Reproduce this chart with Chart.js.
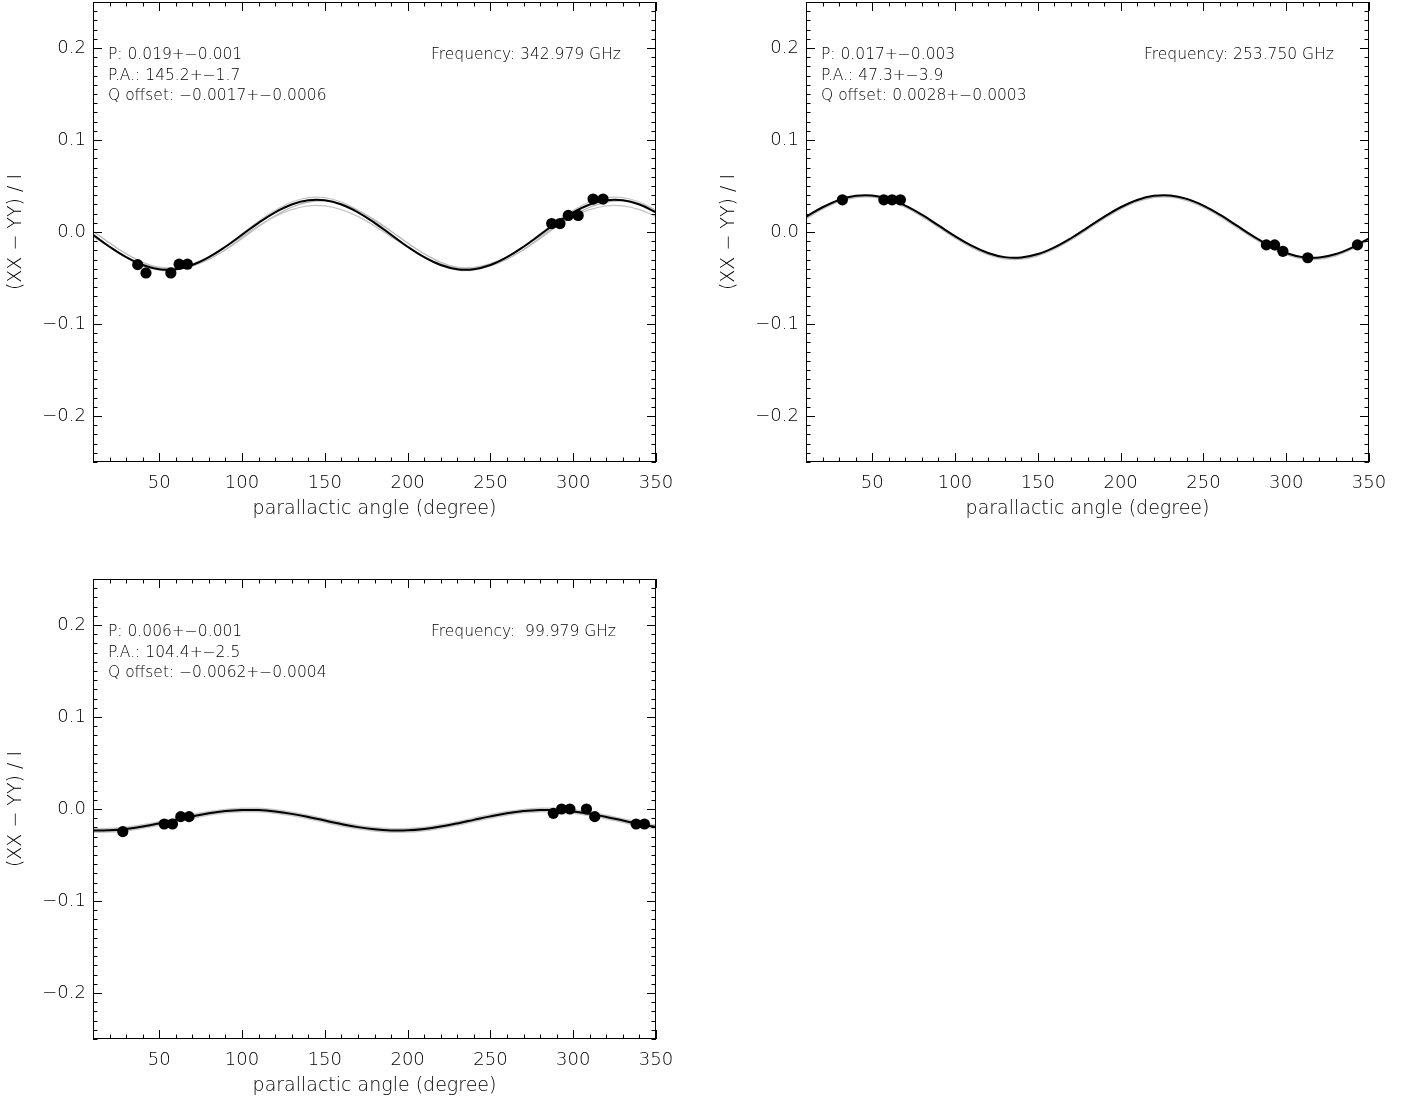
<!DOCTYPE html>
<html>
<head>
<meta charset="utf-8">
<script src="https://cdn.jsdelivr.net/npm/chart.js@4.4.1/dist/chart.umd.min.js"></script>
<style>
  html, body { margin: 0; padding: 0; background: #fff; overflow: hidden; }
  .panel { position: absolute; width: 700px; height: 525px; }
</style>
</head>
<body>
<div class="panel" style="left:0;top:0"><canvas id="c1" width="700" height="525"></canvas></div>
<div class="panel" style="left:713px;top:0"><canvas id="c2" width="700" height="525"></canvas></div>
<div class="panel" style="left:0;top:577px"><canvas id="c3" width="700" height="525"></canvas></div>
<script>
// axis ticks
const xTickValues = [50, 100, 150, 200, 250, 300, 350];
const xTickLabels = ["50", "100", "150", "200", "250", "300", "350"];
const yTickValues = [-0.2, -0.1, 0, 0.1, 0.2];
const yTickLabels = ["\u22120.2", "\u22120.1", "0.0", "0.1", "0.2"];

// angles where the fitted curves were read
const fitAngles = [10, 20, 30, 40, 50, 60, 70, 80, 90, 100, 110, 120, 130, 140, 150, 160, 170, 180,
  190, 200, 210, 220, 230, 240, 250, 260, 270, 280, 290, 300, 310, 320, 330, 340, 350];

// panel 1 : 342.979 GHz
const p1Fit = [-0.003, -0.016, -0.0274, -0.0359, -0.0404, -0.0404, -0.0359, -0.0274, -0.016, -0.003, 0.010, 0.0214, 0.0299, 0.0344, 0.0344, 0.0299, 0.0214, 0.010,
  -0.003, -0.016, -0.0274, -0.0359, -0.0404, -0.0404, -0.0359, -0.0274, -0.016, -0.003, 0.010, 0.0214, 0.0299, 0.0344, 0.0344, 0.0299, 0.0214];
const p1Boot1 = [-0.002, -0.0157, -0.0277, -0.0366, -0.0414, -0.0414, -0.0366, -0.0277, -0.0157, -0.002, 0.0117, 0.0237, 0.0326, 0.0374, 0.0374, 0.0326, 0.0237, 0.0117,
  -0.002, -0.0157, -0.0277, -0.0366, -0.0414, -0.0414, -0.0366, -0.0277, -0.0157, -0.002, 0.0117, 0.0237, 0.0326, 0.0374, 0.0374, 0.0326, 0.0237];
const p1Boot2 = [-0.005, -0.0166, -0.0269, -0.0344, -0.0385, -0.0385, -0.0344, -0.0269, -0.0166, -0.005, 0.0066, 0.0169, 0.0244, 0.0285, 0.0285, 0.0244, 0.0169, 0.0066,
  -0.005, -0.0166, -0.0269, -0.0344, -0.0385, -0.0385, -0.0344, -0.0269, -0.0166, -0.005, 0.0066, 0.0169, 0.0244, 0.0285, 0.0285, 0.0244, 0.0169];
const p1Boot3 = [0.0009, -0.012, -0.0237, -0.0329, -0.0386, -0.0399, -0.0368, -0.0296, -0.0192, -0.0069, 0.006, 0.0177, 0.0269, 0.0326, 0.0339, 0.0308, 0.0236, 0.0132,
  0.0009, -0.012, -0.0237, -0.0329, -0.0386, -0.0399, -0.0368, -0.0296, -0.0192, -0.0069, 0.006, 0.0177, 0.0269, 0.0326, 0.0339, 0.0308, 0.0236];
const p1Angle = [37, 42, 57, 62, 67, 287, 292, 297, 303, 312, 318];
const p1Value = [-0.0355, -0.0445, -0.0445, -0.035, -0.035, 0.0092, 0.0092, 0.018, 0.018, 0.0358, 0.0358];
const p1Text = ["P: 0.019+\u22120.001", "P.A.: 145.2+\u22121.7", "Q offset: \u22120.0017+\u22120.0006"];
const p1Freq = "Frequency: 342.979 GHz";

// panel 2 : 253.750 GHz
const p2Fit = [0.0165, 0.0269, 0.0348, 0.0393, 0.0397, 0.036, 0.0287, 0.0188, 0.0072, -0.0045, -0.0149, -0.0228, -0.0273, -0.0277, -0.024, -0.0167, -0.0068, 0.0048,
  0.0165, 0.0269, 0.0348, 0.0393, 0.0397, 0.036, 0.0287, 0.0188, 0.0072, -0.0045, -0.0149, -0.0228, -0.0273, -0.0277, -0.024, -0.0167, -0.0068];
const p2Boot = [0.0153, 0.0257, 0.0336, 0.0381, 0.0385, 0.0348, 0.0275, 0.0176, 0.006, -0.0057, -0.0161, -0.024, -0.0285, -0.0289, -0.0252, -0.0179, -0.008, 0.0036,
  0.0153, 0.0257, 0.0336, 0.0381, 0.0385, 0.0348, 0.0275, 0.0176, 0.006, -0.0057, -0.0161, -0.024, -0.0285, -0.0289, -0.0252, -0.0179, -0.008];
const p2Angle = [32, 57, 62, 67, 288, 293, 298, 313, 343];
const p2Value = [0.035, 0.035, 0.035, 0.035, -0.014, -0.014, -0.021, -0.028, -0.014];
const p2Text = ["P: 0.017+\u22120.003", "P.A.: 47.3+\u22123.9", "Q offset: 0.0028+\u22120.0003"];
const p2Freq = "Frequency: 253.750 GHz";

// panel 3 : 99.979 GHz
const p3Fit = [-0.0233, -0.0232, -0.0217, -0.0191, -0.0157, -0.0118, -0.008, -0.0047, -0.0023, -0.0011, -0.0012, -0.0027, -0.0053, -0.0087, -0.0126, -0.0164, -0.0197, -0.0221,
  -0.0233, -0.0232, -0.0217, -0.0191, -0.0157, -0.0118, -0.008, -0.0047, -0.0023, -0.0011, -0.0012, -0.0027, -0.0053, -0.0087, -0.0126, -0.0164, -0.0197];
const p3Angle = [28, 53, 58, 63, 68, 288, 293, 298, 308, 313, 338, 343];
const p3Value = [-0.0246, -0.0163, -0.0163, -0.0083, -0.0083, -0.0047, 0.0, 0.0, 0.0, -0.0083, -0.0163, -0.0163];
const p3Text = ["P: 0.006+\u22120.001", "P.A.: 104.4+\u22122.5", "Q offset: \u22120.0062+\u22120.0004"];
const p3Freq = "Frequency:  99.979 GHz";

const FONT = "DejaVu Sans";
Chart.defaults.font.family = FONT;
Chart.defaults.color = "#000";

function toXY(xs, ys) {
  return xs.map((x, i) => ({ x: x, y: ys[i] }));
}

// inward ticks on all four sides, the box, and the fit annotations
const framePlugin = {
  id: "frame",
  afterDatasetsDraw(chart) {
    const { ctx, chartArea: a, scales } = chart;
    const xs = scales.x, ys = scales.y;
    ctx.save();
    ctx.strokeStyle = "#000";
    ctx.lineWidth = 1;
    ctx.strokeRect(a.left + 0.5, a.top + 0.5, a.right - a.left - 1, a.bottom - a.top - 1);
    ctx.beginPath();
    for (let v = 10; v <= 350; v += 10) {
      const px = Math.round(xs.getPixelForValue(v)) + 0.5;
      const len = v % 50 === 0 ? 9 : 4.5;
      ctx.moveTo(px, a.bottom); ctx.lineTo(px, a.bottom - len);
      ctx.moveTo(px, a.top); ctx.lineTo(px, a.top + len);
    }
    for (let i = -25; i <= 25; i++) {
      const py = Math.round(ys.getPixelForValue(i / 100)) + 0.5;
      const len = i % 10 === 0 ? 9 : 4.5;
      ctx.moveTo(a.left, py); ctx.lineTo(a.left + len, py);
      ctx.moveTo(a.right, py); ctx.lineTo(a.right - len, py);
    }
    ctx.stroke();

    const note = chart.options.plugins.frame;
    ctx.fillStyle = "#000";
    ctx.font = "200 15.5px '" + FONT + "'";
    ctx.textBaseline = "middle";
    ctx.textAlign = "left";
    note.lines.forEach((t, i) => ctx.fillText(t, a.left + 15, a.top + 53 + i * 20.5));
    ctx.fillText(note.freq, a.left + 338, a.top + 53);
    ctx.restore();
  }
};

function makePanel(id, fits, boots, angles, values, lines, freq) {
  const datasets = [];
  datasets.push({
    type: "scatter", data: toXY(angles, values), order: 0,
    pointRadius: 5.6, pointBackgroundColor: "#000", pointBorderWidth: 0, showLine: false
  });
  datasets.push({
    data: toXY(fitAngles, fits), order: 1, borderColor: "#000", borderWidth: 2,
    pointRadius: 0, tension: 0.4, fill: false
  });
  boots.forEach(b => datasets.push({
    data: toXY(fitAngles, b.values), order: 2, borderColor: b.color, borderWidth: b.width,
    pointRadius: 0, tension: 0.4, fill: false
  }));

  return new Chart(document.getElementById(id), {
    type: "line",
    data: { datasets: datasets },
    options: {
      responsive: false,
      animation: false,
      layout: { autoPadding: false, padding: { top: 2, right: 44, left: 0, bottom: 0 } },
      plugins: {
        legend: { display: false },
        tooltip: { enabled: false },
        frame: { lines: lines, freq: freq }
      },
      scales: {
        x: {
          type: "linear", min: 10, max: 350,
          grid: { display: false, drawTicks: false },
          border: { display: false },
          afterBuildTicks: s => { s.ticks = xTickValues.map(v => ({ value: v })); },
          afterFit: s => { s.height = 63; s.paddingLeft = 0; s.paddingRight = 0; },
          ticks: {
            padding: 11, maxRotation: 0, autoSkip: false,
            font: { size: 18, weight: 200 },
            callback: (v, i) => xTickLabels[i]
          },
          title: {
            display: true, text: "parallactic angle (degree)",
            font: { size: 19, weight: 200 }, padding: { top: 0, bottom: 5 }
          }
        },
        y: {
          min: -0.25, max: 0.25,
          grid: { display: false, drawTicks: false },
          border: { display: false },
          afterBuildTicks: s => { s.ticks = yTickValues.map(v => ({ value: v })); },
          afterFit: s => { s.width = 93; s.paddingTop = 0; s.paddingBottom = 0; },
          ticks: {
            padding: 7, autoSkip: false,
            font: { size: 18, weight: 200 },
            callback: (v, i) => yTickLabels[i]
          },
          title: {
            display: true, text: "(XX \u2212 YY) / I",
            font: { size: 19, weight: 200 }, padding: { top: 5, bottom: 0 }
          }
        }
      }
    },
    plugins: [framePlugin]
  });
}

makePanel("c1", p1Fit, [
  { values: p1Boot1, color: "#c4c4c4", width: 1.3 },
  { values: p1Boot2, color: "#c4c4c4", width: 1.3 },
  { values: p1Boot3, color: "#b4b4b4", width: 1.3 }
], p1Angle, p1Value, p1Text, p1Freq);

makePanel("c2", p2Fit, [
  { values: p2Boot, color: "#bdbdbd", width: 2.5 }
], p2Angle, p2Value, p2Text, p2Freq);

makePanel("c3", p3Fit, [
  { values: p3Fit, color: "#c8c8c8", width: 5 }
], p3Angle, p3Value, p3Text, p3Freq);
</script>
</body>
</html>
